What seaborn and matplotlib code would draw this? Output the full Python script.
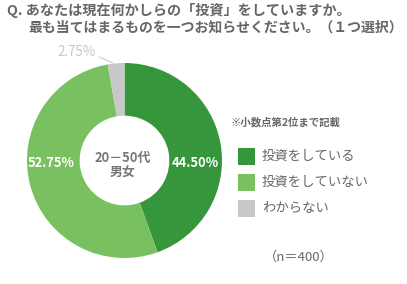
import matplotlib
matplotlib.use("Agg")
import matplotlib.pyplot as plt
import seaborn as sns
from matplotlib.patches import Rectangle

categories = ["投資をしている", "投資をしていない", "わからない"]
values = [44.50, 52.75, 2.75]
colors = ["#36963c", "#79c060", "#c8c8c8"]
title_lines = ["Q. あなたは現在何かしらの「投資」をしていますか。", "最も当てはまるものを一つお知らせください。（１つ選択）"]
center_label = "20－50代\n男女"
note = "※小数点第2位まで記載"
n_label = "（n＝400）"

sns.set_theme(style="white")
plt.rcParams['font.family'] = ['Noto Sans CJK JP', 'DejaVu Sans']

W, H = 407, 284
fig = plt.figure(figsize=(W/100, H/100), dpi=100)
fig.patch.set_facecolor("white")

cx, cy, R = 124.5, 160.5, 97.5
box = 105
ax = fig.add_axes([(cx-box)/W, (H-cy-box)/H, 2*box/W, 2*box/H])
wedges, _ = ax.pie(values, colors=colors, startangle=90, counterclock=False,
                   wedgeprops=dict(width=0.54, linewidth=0))
ax.set_xlim(-box/R, box/R)
ax.set_ylim(-box/R, box/R)
ax.set_aspect("equal")
ax.axis("off")

# value labels
ax.text(0.728, -0.03, f"{values[0]:.2f}%", color="white", fontsize=9.3, fontweight="bold",
        ha="center", va="center")
ax.text(-0.749, -0.03, f"{values[1]:.2f}%", color="white", fontsize=9.3, fontweight="bold",
        ha="center", va="center")
ax.text(-0.49, 1.11, f"{values[2]:.2f}%", color="#c8c8c8", fontsize=9.6,
        ha="center", va="center")
ax.plot([-0.262, -0.118], [1.062, 1.0], color="#cccccc", lw=0.8)
ax.text(-0.015, -0.05, center_label, color="#777777", fontsize=9.3, fontweight="bold",
        ha="center", va="center", linespacing=1.15)

fig.text(7/W, 1-10/H, title_lines[0], color="#666666", fontsize=10.2, fontweight="bold",
         ha="left", va="center")
fig.text(28/W, 1-28/H, title_lines[1], color="#666666", fontsize=10.0, fontweight="bold",
         ha="left", va="center")
fig.text(230/W, 1-122/H, note, color="#666666", fontsize=7.5, fontweight="bold",
         ha="left", va="center")
fig.text(264/W, 1-257/H, n_label, color="#666666", fontsize=9.5,
         ha="left", va="center")

# legend
row_y = [156, 182, 208]
for cat, col, y in zip(categories, colors, row_y):
    fig.add_artist(Rectangle((238/W, 1-(y+8.5)/H), 17/W, 17/H, facecolor=col,
                             edgecolor="none", transform=fig.transFigure))
    fig.text(262/W, 1-y/H, cat, color="#666666", fontsize=9.6, ha="left", va="center")

fig.savefig("out.png", dpi=100)
